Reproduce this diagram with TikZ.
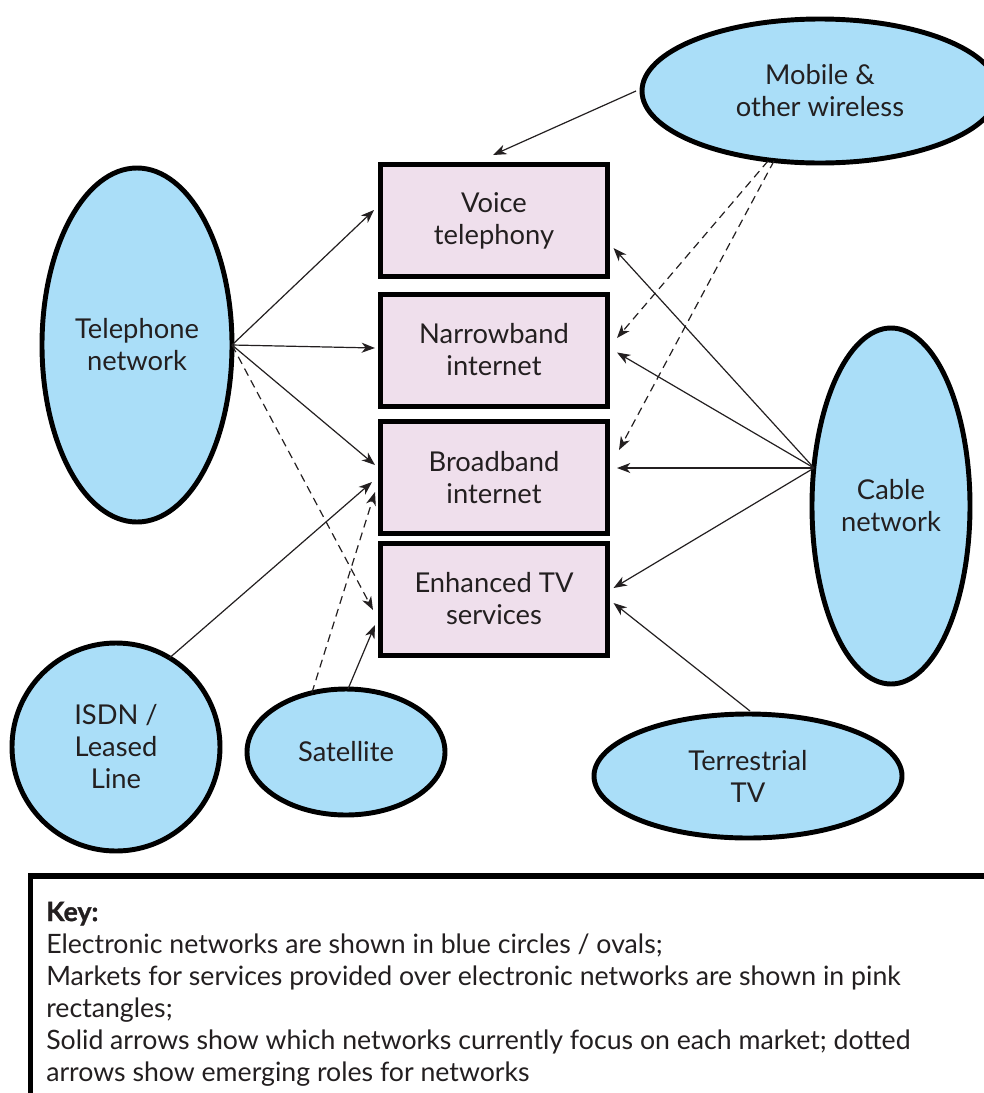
\documentclass[tikz,border=0pt]{standalone}
\usepackage{fontspec}
\setmainfont{Lato}
\usetikzlibrary{shapes.geometric,arrows.meta}
\definecolor{netblue}{RGB}{170,222,248}
\definecolor{mktpink}{RGB}{239,223,236}
\definecolor{ink}{RGB}{35,31,32}

\begin{document}
\begin{tikzpicture}[x=0.75pt,y=-0.75pt,
  net/.style={ellipse, draw=black, line width=3.7pt, fill=netblue,
    inner sep=0pt, outer sep=0pt, text=ink, align=center,
    font=\fontsize{20.5}{24}\selectfont},
  market/.style={rectangle, draw=black, line width=3.75pt, fill=mktpink,
    minimum width=170.25pt, minimum height=84pt, inner sep=0pt, outer sep=0pt,
    text=ink, align=center, font=\fontsize{20.5}{24}\selectfont},
  link/.style={draw=ink, line width=0.9pt,
    -{Stealth[length=10pt,width=7.5pt,inset=3pt]}},
  emerging/.style={link, dash pattern=on 6pt off 4pt},
  keytext/.style={text=ink, align=left, inner sep=0pt,
    font=\fontsize{20}{24}\selectfont},
]
\clip (0,0) rectangle (984,1093);
\fill[white] (0,0) rectangle (984,1093);

% electronic networks
\node[net, minimum width=142.5pt, minimum height=265.5pt] (tel)   at (137,345) {Telephone\\network};
\node[net, minimum width=267pt,   minimum height=108pt]   (mob)   at (820,91)  {Mobile \&\\other wireless};
\node[net, minimum width=118.5pt, minimum height=267pt]   (cable) at (891,506) {Cable\\network};
\node[net, minimum width=156pt,   minimum height=156pt]   (isdn)  at (116,747) {ISDN /\\Leased\\Line};
\node[net, minimum width=148.5pt, minimum height=94.5pt]  (sat)   at (346,752) {Satellite};
\node[net, minimum width=231pt,   minimum height=93pt]    (terr)  at (748,776) {Terrestrial\\TV};

% service markets
\node[market] (voice)  at (494,220.5) {Voice\\telephony};
\node[market] (narrow) at (494,350)   {Narrowband\\internet};
\node[market] (broad)  at (494,477.5) {Broadband\\internet};
\node[market] (enh)    at (494,599)   {Enhanced TV\\services};

% mobile & wireless
\draw[link]     ([shift={(-6,0)}]mob.west)   -- ([shift={(-1,-9.5)}]voice.north);
\draw[emerging] ([shift={(-52,-2)}]mob.south) -- ([shift={(9.5,-12)}]narrow.east);
\draw[emerging] ([shift={(-46,-2)}]mob.south) -- ([shift={(11.5,-27.5)}]broad.east);

% cable
\draw[link] ([shift={(-77,-38)}]cable.center) -- ([shift={(6,27.5)}]voice.east);
\draw[link] ([shift={(-77,-38)}]cable.center) -- ([shift={(9.5,2.5)}]narrow.east);
\draw[link] ([shift={(-77,-38)}]cable.center) -- ([shift={(9.5,-9.5)}]broad.east);
\draw[link] ([shift={(-77,-38)}]cable.center) -- ([shift={(6,-11)}]enh.east);

% terrestrial TV
\draw[link] ([shift={(2,-3)}]terr.north) -- ([shift={(6,4)}]enh.east);

% telephone network
\draw[link]     (tel.east) -- ([shift={(-6.5,-10.5)}]voice.west);
\draw[link]     (tel.east) -- ([shift={(-5.5,-2)}]narrow.west);
\draw[link]     (tel.east) -- ([shift={(-5.5,-12.5)}]broad.west);
\draw[emerging] (tel.east) -- ([shift={(-7.5,11)}]enh.west);

% ISDN and satellite
\draw[link]     (isdn.59) -- ([shift={(-8.5,4.5)}]broad.west);
\draw[emerging] (sat.120) -- ([shift={(-5.5,14.5)}]broad.west);
\draw[link]     ([shift={(2,0)}]sat.north) -- ([shift={(-5.5,26)}]enh.west);

% key
\draw[line width=3.9pt, line join=miter] (30.5,1110) -- (30.5,876) -- (1000,876);
\node[keytext, anchor=north west] (key) at (46,901.5) {%
  {\bfseries\addfontfeature{FakeBold=1.2}Key:}\\
  Electronic networks are shown in blue circles / ovals;\\
  Markets for services provided over electronic networks are shown in pink\\
  rectangles;\\
  Solid arrows show which networks currently focus on each market; dotted\\
  arrows show emerging roles for networks};
\end{tikzpicture}
\end{document}
